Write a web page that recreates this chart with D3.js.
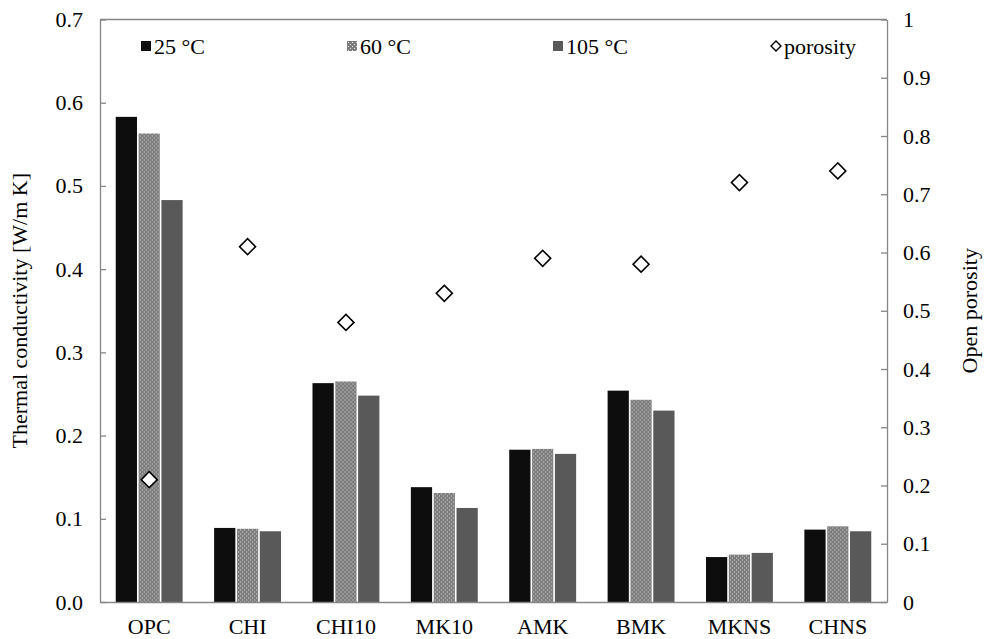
<!DOCTYPE html>
<html>
<head>
<meta charset="utf-8">
<script src="https://cdn.jsdelivr.net/npm/d3@7/dist/d3.min.js"></script>
<style>
  body { margin: 0; background: #fff; }
  svg text { font-family: "Liberation Serif", Tinos, "Times New Roman", Times, "DejaVu Serif", serif; font-size: 22px; fill: #000; }
  .axis path, .axis line { stroke: #868686; stroke-width: 1.3; }
</style>
</head>
<body>
<svg class="chart" width="984" height="639"></svg>
<script>
const categories = ["OPC", "CHI", "CHI10", "MK10", "AMK", "BMK", "MKNS", "CHNS"];
const series = ["25 °C", "60 °C", "105 °C"];
const t25 = [0.583, 0.089, 0.263, 0.138, 0.183, 0.254, 0.054, 0.087];
const t60 = [0.563, 0.088, 0.265, 0.131, 0.184, 0.243, 0.057, 0.091];
const t105 = [0.483, 0.085, 0.248, 0.113, 0.178, 0.230, 0.059, 0.085];
const porosity = [0.21, 0.61, 0.48, 0.53, 0.59, 0.58, 0.72, 0.74];
const leftTicks = [0, 0.1, 0.2, 0.3, 0.4, 0.5, 0.6, 0.7];
const rightTicks = [0, 0.1, 0.2, 0.3, 0.4, 0.5, 0.6, 0.7, 0.8, 0.9, 1];

const fontFam = "'Liberation Serif', Tinos, 'Times New Roman', Times, 'DejaVu Serif', serif";

const svg = d3.select("svg.chart");
const margin = { top: 19.5, right: 97, bottom: 37, left: 100 };
const width = +svg.attr("width");
const height = +svg.attr("height");
const innerWidth = width - margin.left - margin.right;
const innerHeight = height - margin.top - margin.bottom;

// pattern for the 60 °C bars
const defs = svg.append("defs");
const pat = defs.append("pattern")
    .attr("id", "dots")
    .attr("width", 4).attr("height", 4)
    .attr("patternUnits", "userSpaceOnUse");
pat.append("rect").attr("width", 4).attr("height", 4).attr("fill", "#7c7c7c");
pat.append("rect").attr("x", 0).attr("y", 0).attr("width", 1).attr("height", 1).attr("fill", "#e6e6e6");
pat.append("rect").attr("x", 2).attr("y", 2).attr("width", 1).attr("height", 1).attr("fill", "#e6e6e6");

const colors = ["#0d0d0d", "url(#dots)", "#595959"];
const values = [t25, t60, t105];

const xScale = d3.scaleBand()
    .domain(categories)
    .range([0, innerWidth])
    .paddingInner(0.32)
    .paddingOuter(0.16);

const xSub = d3.scaleBand()
    .domain(series)
    .range([0, xScale.bandwidth()])
    .paddingInner(0.07);

const yScale = d3.scaleLinear().domain([0, 0.7]).range([innerHeight, 0]);
const y2Scale = d3.scaleLinear().domain([0, 1]).range([innerHeight, 0]);

const g = svg.append("g")
    .attr("transform", `translate(${margin.left}, ${margin.top})`);

// top border
g.append("line")
    .attr("x1", 0).attr("x2", innerWidth)
    .attr("y1", 0).attr("y2", 0)
    .attr("stroke", "#868686").attr("stroke-width", 1.3);

const rows = categories.map((c, i) => ({
    cat: c,
    vals: series.map((s, j) => ({ s: s, j: j, v: values[j][i] }))
}));

g.selectAll(".group").data(rows)
    .enter().append("g")
    .attr("class", "group")
    .attr("transform", d => `translate(${xScale(d.cat)}, 0)`)
    .selectAll("rect").data(d => d.vals)
    .enter().append("rect")
    .attr("x", d => xSub(d.s))
    .attr("y", d => yScale(d.v))
    .attr("width", xSub.bandwidth())
    .attr("height", d => innerHeight - yScale(d.v))
    .attr("fill", d => colors[d.j]);

// axes
g.append("g").attr("class", "axis")
    .call(d3.axisLeft(yScale).tickValues(leftTicks).tickFormat(d => d.toFixed(1))
        .tickSizeInner(-6).tickSizeOuter(0).tickPadding(17));

g.append("g").attr("class", "axis")
    .attr("transform", `translate(${innerWidth}, 0)`)
    .call(d3.axisRight(y2Scale).tickValues(rightTicks).tickFormat(d => String(+d.toFixed(1)))
        .tickSizeInner(-6).tickSizeOuter(0).tickPadding(16));

g.append("g").attr("class", "axis")
    .attr("transform", `translate(0, ${innerHeight})`)
    .call(d3.axisBottom(xScale).tickSize(0).tickPadding(16));

g.selectAll(".axis").attr("font-family", fontFam).attr("font-size", 22);

// porosity markers
const diamond = d3.symbol(d3.symbolSquare, 128);
g.selectAll(".por").data(porosity)
    .enter().append("path")
    .attr("class", "por")
    .attr("d", diamond)
    .attr("transform", (d, i) => `translate(${xScale(categories[i]) + xScale.bandwidth() / 2}, ${y2Scale(d)}) rotate(45)`)
    .attr("fill", "#fff")
    .attr("stroke", "#000")
    .attr("stroke-width", 1.6);

// axis titles
svg.append("text")
    .attr("transform", `translate(27, ${margin.top + innerHeight / 2}) rotate(-90)`)
    .attr("text-anchor", "middle")
    .text("Thermal conductivity [W/m K]");

svg.append("text")
    .attr("transform", `translate(977, ${margin.top + innerHeight / 2}) rotate(-90)`)
    .attr("text-anchor", "middle")
    .text("Open porosity");

// legend
const legendY = 46;
const legendItems = [
    { label: "25 °C", x: 146, fill: colors[0], type: "sq" },
    { label: "60 °C", x: 352, fill: colors[1], type: "sq" },
    { label: "105 °C", x: 558, fill: colors[2], type: "sq" },
    { label: "porosity", x: 776, fill: "#fff", type: "dia" }
];
const leg = svg.selectAll(".leg").data(legendItems)
    .enter().append("g")
    .attr("class", "leg")
    .attr("transform", d => `translate(${d.x}, ${legendY})`);

leg.filter(d => d.type === "sq").append("rect")
    .attr("x", -5).attr("y", -5).attr("width", 10).attr("height", 10)
    .attr("fill", d => d.fill);
leg.filter(d => d.type === "dia").append("path")
    .attr("d", d3.symbol(d3.symbolSquare, 50))
    .attr("transform", "rotate(45)")
    .attr("fill", "#fff").attr("stroke", "#000").attr("stroke-width", 1.4);
leg.append("text")
    .attr("x", 8)
    .attr("dy", "0.35em")
    .text(d => d.label);

svg.selectAll("text").style("font-family", fontFam);
</script>
</body>
</html>
